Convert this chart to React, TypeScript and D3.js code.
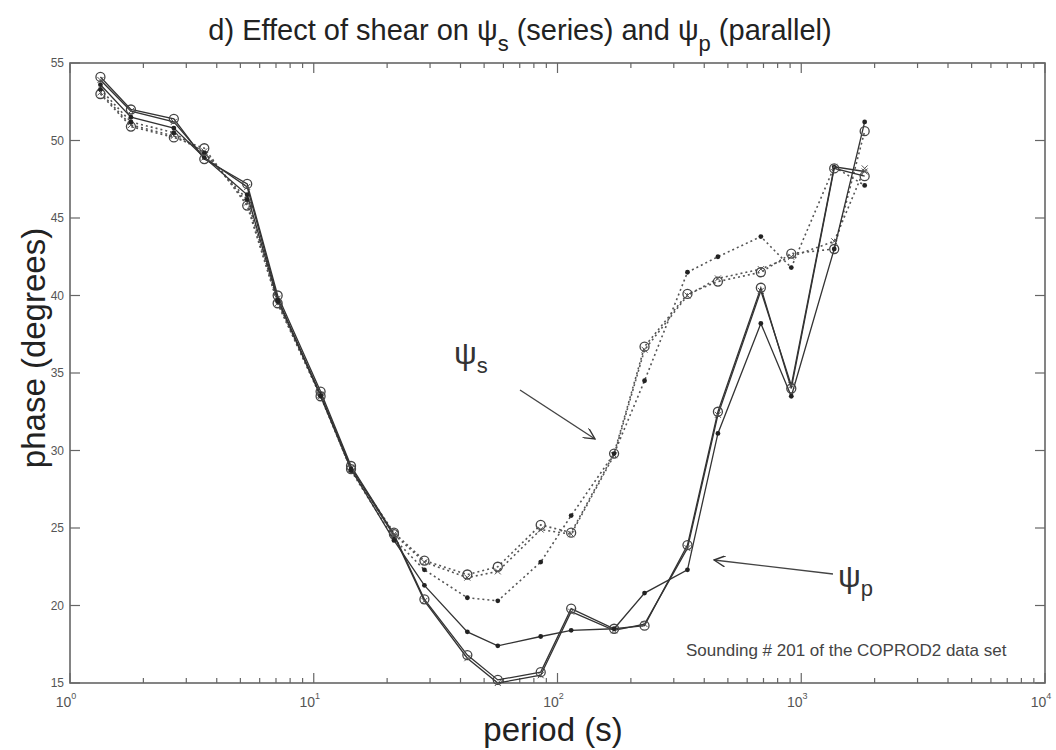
import * as d3 from "d3";
import { useEffect, useRef } from "react";

// COPROD2 periods (s)
const periods = [
  1.333, 1.778, 2.667, 3.556, 5.333, 7.111, 10.667, 14.222, 21.333, 28.444,
  42.667, 56.889, 85.333, 113.78, 170.67, 227.56, 341.33, 455.11, 682.67,
  910.22, 1365.3, 1820.4,
];

// psi_p (parallel), solid lines
const psiPCircle = [
  54.1, 52.0, 51.4, 48.8, 47.2, 40.0, 33.8, 29.0, 24.6, 20.4, 16.8, 15.2, 15.7,
  19.8, 18.5, 18.7, 23.9, 32.5, 40.5, 34.0, 48.2, 47.7,
];
const psiPCross = [
  53.9, 51.9, 51.2, 48.9, 47.0, 39.8, 33.6, 28.9, 24.5, 20.3, 16.6, 15.0, 15.5,
  19.6, 18.4, 18.8, 23.7, 32.3, 40.3, 34.2, 48.3, 48.0,
];
const psiPDot = [
  53.6, 51.5, 50.8, 48.9, 46.5, 39.7, 33.5, 28.8, 24.2, 21.3, 18.3, 17.4, 18.0,
  18.4, 18.5, 20.8, 22.3, 31.1, 38.2, 33.5, 43.0, 51.2,
];

// psi_s (series), dotted lines
const psiSCircle = [
  53.0, 50.9, 50.2, 49.5, 45.8, 39.5, 33.5, 28.8, 24.7, 22.9, 22.0, 22.5, 25.2,
  24.7, 29.8, 36.7, 40.1, 40.9, 41.5, 42.7, 43.0, 50.6,
];
const psiSCross = [
  53.1, 51.0, 50.3, 49.3, 46.0, 39.5, 33.5, 28.8, 24.6, 22.8, 21.8, 22.2, 24.9,
  24.6, 29.7, 36.5, 40.0, 41.1, 41.7, 42.5, 43.5, 48.2,
];
const psiSDot = [
  53.3, 51.2, 50.5, 49.2, 46.2, 39.6, 33.6, 28.7, 24.3, 22.3, 20.5, 20.3, 22.8,
  25.8, 29.8, 34.5, 41.5, 42.5, 43.8, 41.8, 48.3, 47.1,
];

const yTicks = [15, 20, 25, 30, 35, 40, 45, 50, 55];
const xExponents = [0, 1, 2, 3, 4];

type Series = { values: number[]; marker: "o" | "x" | "."; dotted: boolean };

const series: Series[] = [
  { values: psiSCircle, marker: "o", dotted: true },
  { values: psiSCross, marker: "x", dotted: true },
  { values: psiSDot, marker: ".", dotted: true },
  { values: psiPCircle, marker: "o", dotted: false },
  { values: psiPCross, marker: "x", dotted: false },
  { values: psiPDot, marker: ".", dotted: false },
];

export default function App() {
  const svgRef = useRef<SVGSVGElement | null>(null);

  useEffect(() => {
    const svg = d3.select(svgRef.current);
    const width = 1056;
    const height = 750;
    const margin = { top: 63, right: 11, bottom: 67, left: 70 };
    const font = "'Liberation Sans', Arial, sans-serif";

    svg.selectAll("*").remove();
    svg.attr("width", width).attr("height", height);

    const x = d3
      .scaleLog()
      .domain([1, 10000])
      .range([margin.left, width - margin.right]);

    const y = d3
      .scaleLinear()
      .domain([15, 55])
      .range([height - margin.bottom, margin.top]);

    const x0 = margin.left;
    const x1 = width - margin.right;
    const y0 = height - margin.bottom;
    const y1 = margin.top;
    const axisColor = "#666";

    // ticks (inside, mirrored)
    const ticks = svg.append("g").attr("stroke", axisColor).attr("stroke-width", 1.2);
    const minor: number[] = [];
    for (let e = 0; e < 4; e++) {
      for (let m = 2; m <= 9; m++) minor.push(m * Math.pow(10, e));
    }
    minor.forEach((v) => {
      ticks.append("line").attr("x1", x(v)).attr("x2", x(v)).attr("y1", y0).attr("y2", y0 - 5);
      ticks.append("line").attr("x1", x(v)).attr("x2", x(v)).attr("y1", y1).attr("y2", y1 + 5);
    });
    xExponents.forEach((e) => {
      const v = Math.pow(10, e);
      ticks.append("line").attr("x1", x(v)).attr("x2", x(v)).attr("y1", y0).attr("y2", y0 - 10);
      ticks.append("line").attr("x1", x(v)).attr("x2", x(v)).attr("y1", y1).attr("y2", y1 + 10);
    });
    yTicks.forEach((v) => {
      ticks.append("line").attr("x1", x0).attr("x2", x0 + 10).attr("y1", y(v)).attr("y2", y(v));
      ticks.append("line").attr("x1", x1).attr("x2", x1 - 10).attr("y1", y(v)).attr("y2", y(v));
    });

    svg
      .append("rect")
      .attr("x", x0)
      .attr("y", y1)
      .attr("width", x1 - x0)
      .attr("height", y0 - y1)
      .attr("fill", "none")
      .attr("stroke", axisColor)
      .attr("stroke-width", 1.6);

    // tick labels
    svg
      .selectAll(".ylab")
      .data(yTicks)
      .enter()
      .append("text")
      .attr("class", "ylab")
      .attr("x", x0 - 6)
      .attr("y", (d) => y(d) + 4)
      .attr("text-anchor", "end")
      .attr("font-family", font)
      .attr("font-size", "12px")
      .attr("fill", "#555")
      .text((d) => d);

    const xl = svg
      .selectAll(".xlab")
      .data(xExponents)
      .enter()
      .append("text")
      .attr("class", "xlab")
      .attr("x", (d) => x(Math.pow(10, d)) - 4)
      .attr("y", y0 + 24)
      .attr("text-anchor", "middle")
      .attr("font-family", font)
      .attr("font-size", "14px")
      .attr("fill", "#555");
    xl.append("tspan").text("10");
    xl.append("tspan")
      .attr("dy", -8)
      .attr("font-size", "9px")
      .text((d) => d);

    // lines
    const line = d3
      .line<number>()
      .x((_, i) => x(periods[i]))
      .y((d) => y(d));

    series.forEach((s) => {
      svg
        .append("path")
        .datum(s.values)
        .attr("fill", "none")
        .attr("stroke", s.dotted ? "#555" : "#333")
        .attr("stroke-width", s.dotted ? 1.6 : 1.3)
        .attr("stroke-dasharray", s.dotted ? "2,3" : null)
        .attr("d", line);
    });

    series.forEach((s) => {
      const g = svg.append("g");
      s.values.forEach((v, i) => {
        const cx = x(periods[i]);
        const cy = y(v);
        if (s.marker === "o") {
          g.append("circle")
            .attr("cx", cx)
            .attr("cy", cy)
            .attr("r", 4.5)
            .attr("fill", "none")
            .attr("stroke", "#444")
            .attr("stroke-width", 1.3);
        } else if (s.marker === "x") {
          g.append("path")
            .attr("d", `M${cx - 3},${cy - 3}L${cx + 3},${cy + 3}M${cx - 3},${cy + 3}L${cx + 3},${cy - 3}`)
            .attr("stroke", "#555")
            .attr("stroke-width", 1);
        } else {
          g.append("circle")
            .attr("cx", cx)
            .attr("cy", cy)
            .attr("r", 2.4)
            .attr("fill", "#222");
        }
      });
    });

    // annotations
    const psiS = svg
      .append("text")
      .attr("x", 454)
      .attr("y", 364)
      .attr("font-family", font)
      .attr("font-size", "32px")
      .attr("fill", "#333");
    psiS.append("tspan").text("ψ");
    psiS.append("tspan").attr("dy", 9).attr("font-size", "22px").text("s");

    const psiP = svg
      .append("text")
      .attr("x", 838)
      .attr("y", 587)
      .attr("font-family", font)
      .attr("font-size", "32px")
      .attr("fill", "#333");
    psiP.append("tspan").text("ψ");
    psiP.append("tspan").attr("dy", 9).attr("font-size", "22px").text("p");

    const defs = svg.append("defs");
    defs
      .append("marker")
      .attr("id", "arrow")
      .attr("viewBox", "0 0 10 10")
      .attr("refX", 10)
      .attr("refY", 5)
      .attr("markerWidth", 10)
      .attr("markerHeight", 8)
      .attr("orient", "auto")
      .append("path")
      .attr("d", "M0,0L10,5L0,10")
      .attr("fill", "none")
      .attr("stroke", "#333")
      .attr("stroke-width", 1.2);

    svg
      .append("line")
      .attr("x1", 520)
      .attr("y1", 390)
      .attr("x2", 595)
      .attr("y2", 439)
      .attr("stroke", "#444")
      .attr("stroke-width", 1.4)
      .attr("marker-end", "url(#arrow)");

    svg
      .append("line")
      .attr("x1", 833)
      .attr("y1", 574)
      .attr("x2", 714)
      .attr("y2", 560)
      .attr("stroke", "#444")
      .attr("stroke-width", 1.4)
      .attr("marker-end", "url(#arrow)");

    svg
      .append("text")
      .attr("x", 686)
      .attr("y", 656)
      .attr("font-family", font)
      .attr("font-size", "17px")
      .attr("fill", "#444")
      .text("Sounding # 201 of the COPROD2 data set");

    // title and axis labels
    const title = svg
      .append("text")
      .attr("x", 520)
      .attr("y", 40)
      .attr("text-anchor", "middle")
      .attr("font-family", font)
      .attr("font-size", "29px")
      .attr("fill", "#222");
    title.append("tspan").text("d) Effect of shear on ψ");
    title.append("tspan").attr("dy", 11).attr("font-size", "22px").text("s");
    title.append("tspan").attr("dy", -11).text(" (series) and ψ");
    title.append("tspan").attr("dy", 11).attr("font-size", "22px").text("p");
    title.append("tspan").attr("dy", -11).text(" (parallel)");

    svg
      .append("text")
      .attr("x", 553)
      .attr("y", 741)
      .attr("text-anchor", "middle")
      .attr("font-family", font)
      .attr("font-size", "33px")
      .attr("fill", "#222")
      .text("period (s)");

    svg
      .append("text")
      .attr("transform", `translate(45,348) rotate(-90)`)
      .attr("text-anchor", "middle")
      .attr("font-family", font)
      .attr("font-size", "33px")
      .attr("fill", "#222")
      .text("phase (degrees)");
  }, []);

  return (
    <svg
      ref={svgRef}
      style={{ position: "absolute", left: 0, top: 0, background: "#fff" }}
    ></svg>
  );
}
